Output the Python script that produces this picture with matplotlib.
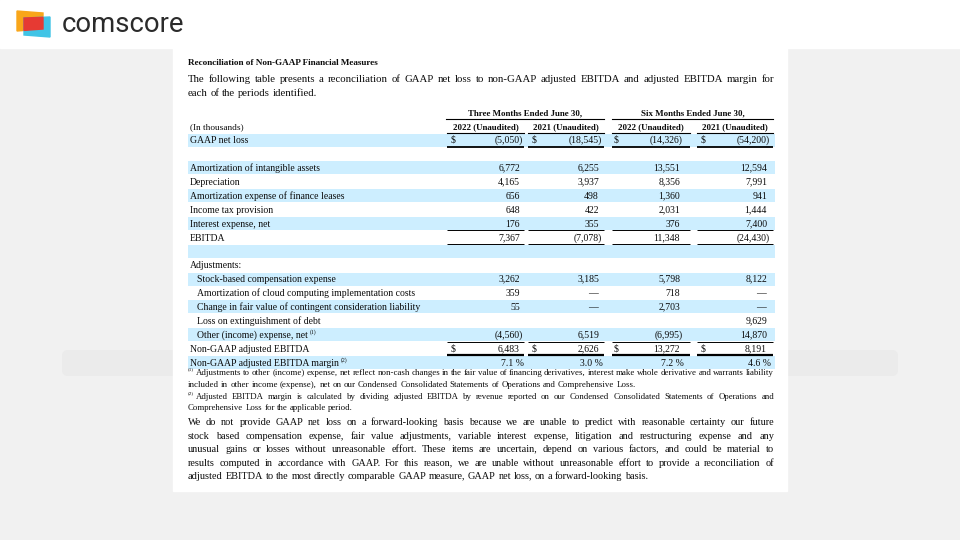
import math
import matplotlib
matplotlib.use("Agg")
import matplotlib.pyplot as plt
from matplotlib.patches import Rectangle, Polygon, FancyBboxPatch
from matplotlib.backends.backend_agg import get_hinting_flag

# ---- data -------------------------------------------------------------
row_labels = ["GAAP net loss", "", "Amortization of intangible assets", "Depreciation",
              "Amortization expense of finance leases", "Income tax provision",
              "Interest expense, net", "EBITDA", "", "Adjustments:",
              "Stock-based compensation expense",
              "Amortization of cloud computing implementation costs",
              "Change in fair value of contingent consideration liability",
              "Loss on extinguishment of debt", "Other (income) expense, net",
              "Non-GAAP adjusted EBITDA", "Non-GAAP adjusted EBITDA margin"]
row_indent = [0, 0, 0, 0, 0, 0, 0, 0, 0, 0, 1, 1, 1, 1, 1, 0, 0]
row_notes = {14: "(1)", 16: "(2)"}
dollar_rows = [0, 15]

# None = blank cell, 0 = dash
q2_2022 = [-5050, None, 6772, 4165, 656, 648, 176, 7367, None, None, 3262, 359, 55, None, -4560, 6483]
q2_2021 = [-18545, None, 6255, 3937, 498, 422, 355, -7078, None, None, 3185, 0, 0, None, 6519, 2626]
h1_2022 = [-14326, None, 13551, 8356, 1360, 2031, 376, 11348, None, None, 5798, 718, 2703, None, -6995, 13272]
h1_2021 = [-54200, None, 12594, 7991, 941, 1444, 7400, -24430, None, None, 8122, 0, 0, 9629, 14870, 8191]
margin = [7.1, 3.0, 7.2, 4.6]

group_headers = ["Three Months Ended June 30,", "Six Months Ended June 30,"]
col_headers = ["2022 (Unaudited)", "2021 (Unaudited)", "2022 (Unaudited)", "2021 (Unaudited)"]

title = "Reconciliation of Non-GAAP Financial Measures"
intro = ["The following table presents a reconciliation of GAAP net loss to non-GAAP adjusted EBITDA and adjusted EBITDA margin for",
         "each of the periods identified."]
note1 = ["Adjustments to other (income) expense, net reflect non-cash changes in the fair value of financing derivatives, interest make whole derivative and warrants liability",
         "included in other income (expense), net on our Condensed Consolidated Statements of Operations and Comprehensive Loss."]
note2 = ["Adjusted EBITDA margin is calculated by dividing adjusted EBITDA by revenue reported on our Condensed Consolidated Statements of Operations and",
         "Comprehensive Loss for the applicable period."]
outro = ["We do not provide GAAP net loss on a forward-looking basis because we are unable to predict with reasonable certainty our future",
         "stock based compensation expense, fair value adjustments, variable interest expense, litigation and restructuring expense and any",
         "unusual gains or losses without unreasonable effort. These items are uncertain, depend on various factors, and could be material to",
         "results computed in accordance with GAAP. For this reason, we are unable without unreasonable effort to provide a reconciliation of",
         "adjusted EBITDA to the most directly comparable GAAP measure, GAAP net loss, on a forward-looking basis."]

# ---- figure -------------------------------------------------------------
fig = plt.figure(figsize=(9.6, 5.4), dpi=100)
ax = fig.add_axes([0, 0, 1, 1])
ax.set_xlim(0, 960)
ax.set_ylim(540, 0)
ax.axis("off")
fig.patch.set_facecolor("#f1f1f1")
r = fig.canvas.get_renderer()

SERIF = "Liberation Serif"
INK = "#0c0c0c"
BLUE = "#cdeeff"


def snap_offset(s, prop):
    # Agg rounds each text bitmap on its own; shift so every string lands
    # on the same whole-pixel baseline
    try:
        font = r._prepare_font(prop)
        font.set_text(s, 0, flags=get_hinting_flag())
        h = font.get_width_height()[1] / 64
        d = font.get_descent() / 64
        return math.floor(h) - math.floor(h - d) - d
    except Exception:
        return 0.0


def txt(x, y, s, size, weight="normal", ha="left", **kw):
    base = round(y + 0.33 * size * 100 / 72)
    t = ax.text(x, base, s, fontsize=size, family=SERIF, weight=weight, color=INK,
                ha=ha, va="baseline", zorder=5, **kw)
    t.set_y(base + snap_offset(s, t.get_fontproperties()))
    return t


def width(s, size, weight="normal"):
    t = ax.text(0, 0, s, fontsize=size, family=SERIF, weight=weight)
    w = t.get_window_extent(r).width
    t.remove()
    return w


def lines_block(lines, y0, dy, size, x0=188, x1=774, first_x=None, fill=0.97):
    # pick the size so the fullest line nearly fills the measure, then justify
    lx0 = first_x if first_x is not None else x0
    nat = max(width(ln, size) / (x1 - (lx0 if i == 0 else x0))
              for i, ln in enumerate(lines[:-1]))
    size = size * fill / nat
    space = width("a a", size) - 2 * width("a", size)
    for i, ln in enumerate(lines):
        words = ln.split()
        ws = [width(w, size) for w in words]
        lx = lx0 if i == 0 else x0
        last = i == len(lines) - 1
        gap = space if last else (x1 - lx - sum(ws)) / (len(words) - 1)
        x = lx
        for w, wd in zip(words, ws):
            txt(x, y0 + i * dy, w, size)
            x += wd + gap


# header band + logo
ax.add_patch(Rectangle((0, 0), 960, 48, color="white", zorder=0))
ax.add_patch(Polygon([(17, 11), (43, 13), (43, 29), (17, 31)], color="#f9a61a", zorder=1))
ax.add_patch(Polygon([(24, 18), (50, 17), (50, 37), (24, 35)], color="#40c4e6", zorder=2))
ax.add_patch(Polygon([(24, 18), (43, 17.3), (43, 29), (24, 30.4)], color="#e63a33", zorder=3))
ax.text(62, 24, "comscore", fontsize=19.8, family="Roboto", color="#2b2b2b",
        va="center", ha="left")

# faint band behind the page
ax.add_patch(FancyBboxPatch((62, 350), 836, 26, boxstyle="round,pad=0,rounding_size=6",
                            color="#ebebeb", ec="none", zorder=0))
# page
ax.add_patch(Rectangle((173, 48), 614, 443, color="white", zorder=1))

txt(188, 62, title, 6.6, weight="bold")
lines_block(intro, 78, 14, 7.3, fill=0.96)

# table geometry
group_spans = [(446, 604), (612, 773)]
col_spans = [(447, 524), (528, 604), (612, 690), (697, 773)]
num_right = [520, 599, 680, 767]
dollar_x = [451, 532, 614, 701]
ROW0, DY = 140, 13.9
TS = 7.0
HS = 6.4

for (a, b), g in zip(group_spans, group_headers):
    txt((a + b) / 2, 113, g, HS, weight="bold", ha="center")
    ax.plot([a, b], [119, 119], color="black", lw=0.8, zorder=5)
txt(190, 127, "(In thousands)", TS - 0.3)
for (a, b), c in zip(col_spans, col_headers):
    txt((a + b) / 2, 127, c, HS, weight="bold", ha="center")
    ax.plot([a, b], [133, 133], color="black", lw=0.8, zorder=5)

columns = [q2_2022, q2_2021, h1_2022, h1_2021]
for i, lab in enumerate(row_labels):
    y = ROW0 + i * DY
    if i % 2 == 0:
        ax.add_patch(Rectangle((188, y - 6.5), 587, 13, color=BLUE, zorder=2, lw=0))
    tx = 190 + 7 * row_indent[i]
    t = txt(tx, y, lab, TS)
    if i in row_notes:
        w = t.get_window_extent(r).width
        txt(tx + w + 2, y - 2.8, row_notes[i], 4.2)
    for c, col in enumerate(columns):
        if i == len(row_labels) - 1:
            txt(num_right[c] + 4, y, f"{margin[c]:.1f} %", TS, ha="right")
            continue
        v = col[i]
        if v is None:
            continue
        if v == 0:
            txt(num_right[c] - 1, y, "\u2014", TS, ha="right")
        elif v < 0:
            txt(num_right[c] + 3, y, f"({-v:,})", TS, ha="right")
        else:
            txt(num_right[c], y, f"{v:,}", TS, ha="right")
        if i in dollar_rows:
            txt(dollar_x[c], y, "$", TS)


def rule(y, lw):
    for a, b in col_spans:
        ax.plot([a, b], [y, y], color="black", lw=lw, zorder=6, solid_capstyle="butt")


rule(ROW0 + 0.5 * DY, 1.3)
rule(ROW0 + 6.5 * DY, 0.7)
rule(ROW0 + 7.5 * DY, 0.7)
rule(ROW0 + 14.5 * DY, 0.7)
rule(ROW0 + 15.5 * DY, 1.6)

# footnotes
FS = 5.6
txt(188, 369.5, "(1)", 3.8)
lines_block(note1, 372, 11.6, FS, first_x=196, fill=1.0)
txt(188, 393.5, "(2)", 3.8)
lines_block(note2, 396, 11.6, FS, first_x=196, fill=0.93)

lines_block(outro, 422, 13.5, 7.2, fill=0.935)

fig.savefig("out.png", dpi=100, facecolor=fig.get_facecolor())
